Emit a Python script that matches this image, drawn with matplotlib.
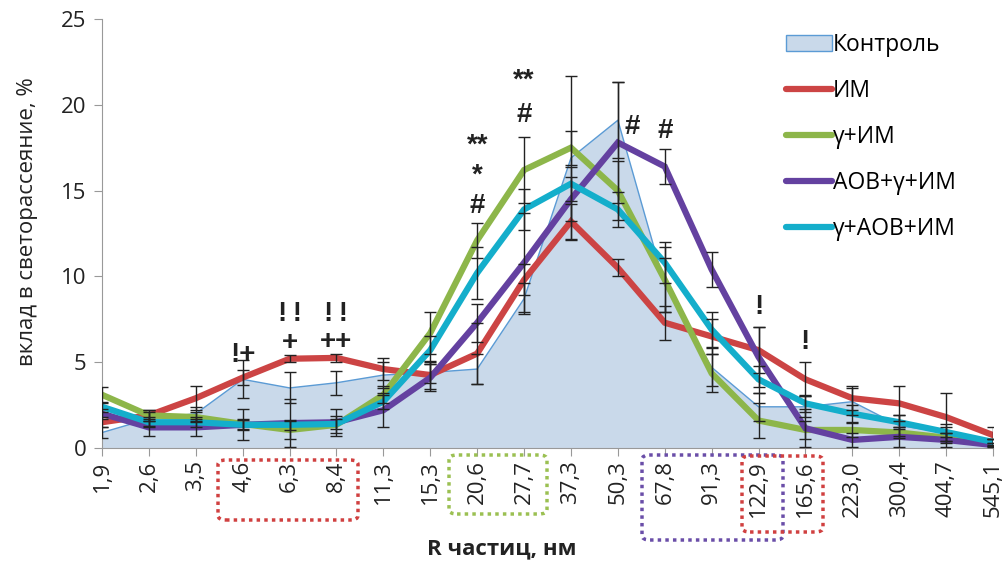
import matplotlib
matplotlib.use("Agg")
import matplotlib.pyplot as plt
import numpy as np
from matplotlib.patches import FancyBboxPatch
from matplotlib.patches import Patch
from matplotlib.lines import Line2D

plt.rcParams['font.family'] = ['Open Sans', 'DejaVu Sans']

# categories (particle radius, nm)
radii = ["1,9", "2,6", "3,5", "4,6", "6,3", "8,4", "11,3", "15,3", "20,6", "27,7",
         "37,3", "50,3", "67,8", "91,3", "122,9", "165,6", "223,0", "300,4", "404,7", "545,1"]

control = [0.9, 1.7, 2.0, 4.0, 3.5, 3.8, 4.25, 4.4, 4.6, 8.7,
           16.9, 19.1, 9.5, 4.7, 2.4, 2.4, 2.7, 1.3, 0.9, 0.3]
control_err = [0.3, 0.4, 0.4, 1.1, 0.9, 0.7, 0.75, 0.6, 0.9, 0.9,
               4.8, 2.2, 1.6, 1.1, 0.8, 0.6, 0.8, 0.6, 0.5, 0.2]

im = [1.5, 1.9, 2.9, 4.1, 5.2, 5.25, 4.6, 4.25, 5.5, 9.8,
      13.2, 10.5, 7.3, 6.5, 5.7, 4.0, 2.9, 2.6, 1.8, 0.75]
im_err = [0.3, 0.3, 0.7, 0.45, 0.2, 0.25, 0.65, 0.8, 1.8, 0.9,
          1.0, 0.5, 1.0, 1.0, 1.35, 1.0, 0.7, 1.0, 1.4, 0.45]

g_im = [3.1, 1.9, 1.8, 1.4, 1.05, 1.35, 3.1, 6.7, 12.1, 16.2,
        17.5, 15.0, 9.8, 4.35, 1.6, 1.05, 1.05, 0.9, 0.6, 0.3]
g_im_err = [0.45, 0.3, 0.3, 0.3, 0.5, 0.5, 0.5, 1.2, 1.0, 1.9,
            1.0, 1.7, 1.9, 1.1, 1.0, 0.5, 0.4, 0.3, 0.3, 0.2]

aov_g_im = [2.0, 1.2, 1.2, 1.35, 1.45, 1.5, 2.2, 4.1, 7.3, 10.8,
            14.5, 17.8, 16.4, 10.4, 5.3, 1.15, 0.47, 0.65, 0.47, 0.17]
aov_g_im_err = [0.3, 0.5, 0.5, 0.9, 1.4, 0.8, 1.0, 0.8, 1.1, 2.9,
                1.3, 3.5, 1.0, 1.0, 1.75, 1.1, 0.4, 0.6, 0.4, 0.1]

g_aov_im = [2.4, 1.5, 1.5, 1.35, 1.35, 1.4, 2.7, 5.7, 10.2, 13.9,
            15.4, 13.9, 10.8, 6.9, 4.0, 2.6, 2.0, 1.5, 0.93, 0.35]
g_aov_im_err = [0.3, 0.3, 0.3, 0.3, 0.3, 0.3, 0.4, 0.8, 1.5, 1.2,
                1.0, 1.0, 1.2, 1.0, 0.8, 0.5, 0.5, 0.4, 0.3, 0.2]

series = [
    ("ИМ", im, im_err, "#cc4444"),
    ("γ+ИМ", g_im, g_im_err, "#8db64a"),
    ("АОВ+γ+ИМ", aov_g_im, aov_g_im_err, "#6441a0"),
    ("γ+АОВ+ИМ", g_aov_im, g_aov_im_err, "#14aecb"),
]

# significance marks: (category index, y value, text)
marks = [(3, 5.4, "!+"), (4, 7.8, "!\u2009!"), (4, 6.1, "+"), (5, 7.8, "!\u2009!"), (5, 6.2, "++"),
         (8, 17.6, "**"), (8, 15.9, "*"), (8, 14.1, "#"), (9, 21.4, "**"), (9, 19.4, "#"),
         (11.3, 18.7, "#"), (12, 18.5, "#"), (14, 8.2, "!"), (15, 6.2, "!")]

fig = plt.figure(figsize=(10.06, 5.63), dpi=100)
ax = fig.add_axes([0.1014, 0.2043, 0.8857, 0.762])
x = np.arange(len(radii))

ax.fill_between(x, 0, control, facecolor="#c9d9ea", edgecolor="none", zorder=1)
ax.plot(x, control, color="#5b9bd5", lw=1, zorder=2)
ax.errorbar(x, control, yerr=control_err, fmt="none", ecolor="#222222",
            elinewidth=1, capsize=4, capthick=1, zorder=10)

for name, vals, err, col in series:
    ax.plot(x, vals, color=col, lw=4.5, solid_joinstyle="miter", zorder=4)
    ax.errorbar(x, vals, yerr=err, fmt="none", ecolor="#222222",
                elinewidth=1, capsize=4, capthick=1, zorder=10)

for xi, yi, txt in marks:
    ax.text(xi, yi, txt, ha="center", va="center", fontsize=20, color="#222222",
            family=["Liberation Sans", "DejaVu Sans"], fontweight="bold", zorder=11)

ax.set_xlim(0, 19)
ax.set_ylim(0, 25)
ax.set_yticks(range(0, 26, 5))
ax.set_xticks(x)
ax.set_xticklabels(radii, rotation=90, fontsize=16, color="#222222")
ax.tick_params(axis="y", labelsize=16, labelcolor="#222222", direction="out", length=6,
               color="#999999", pad=5)
ax.tick_params(axis="x", direction="out", length=6, color="#999999", pad=3)
for s in ["top", "right"]:
    ax.spines[s].set_visible(False)
for s in ["left", "bottom"]:
    ax.spines[s].set_color("#999999")

ax.set_ylabel("вклад в светорассеяние, %", fontsize=16, color="#222222")
ax.yaxis.set_label_coords(-0.072, 0.527)
ax.set_xlabel("R частиц, нм", fontsize=16, fontweight="bold", color="#222222")
ax.xaxis.set_label_coords(0.449, -0.21)

handles = [Patch(facecolor="#c9d9ea", edgecolor="#5b9bd5", label="Контроль")]
for name, vals, err, col in series:
    handles.append(Line2D([0], [0], color=col, lw=4.5, solid_capstyle="round", label=name))
ax.legend(handles=handles, loc="upper left", bbox_to_anchor=(0.752, 1.0), frameon=False,
          fontsize=16.5, labelspacing=0.96, handlelength=2.0, handletextpad=0.05,
          borderaxespad=0.2)

# dotted boxes around groups of tick labels (figure pixel coords)
boxes = [((218, 460, 140, 60), "#d04040"), ((449, 455, 98, 59), "#9bc052"),
         ((642, 455, 141, 85), "#6a4ea8"), ((742, 456, 81, 76), "#d04040")]
for (bx, by, bw, bh), col in boxes:
    p = FancyBboxPatch((bx / 1006, 1 - (by + bh) / 563), bw / 1006, bh / 563,
                       boxstyle="round,pad=0,rounding_size=0.008", transform=fig.transFigure,
                       fill=False, edgecolor=col, lw=2.5, linestyle=(0, (1, 1.2)))
    fig.patches.append(p)

fig.savefig("out.png", dpi=100)
